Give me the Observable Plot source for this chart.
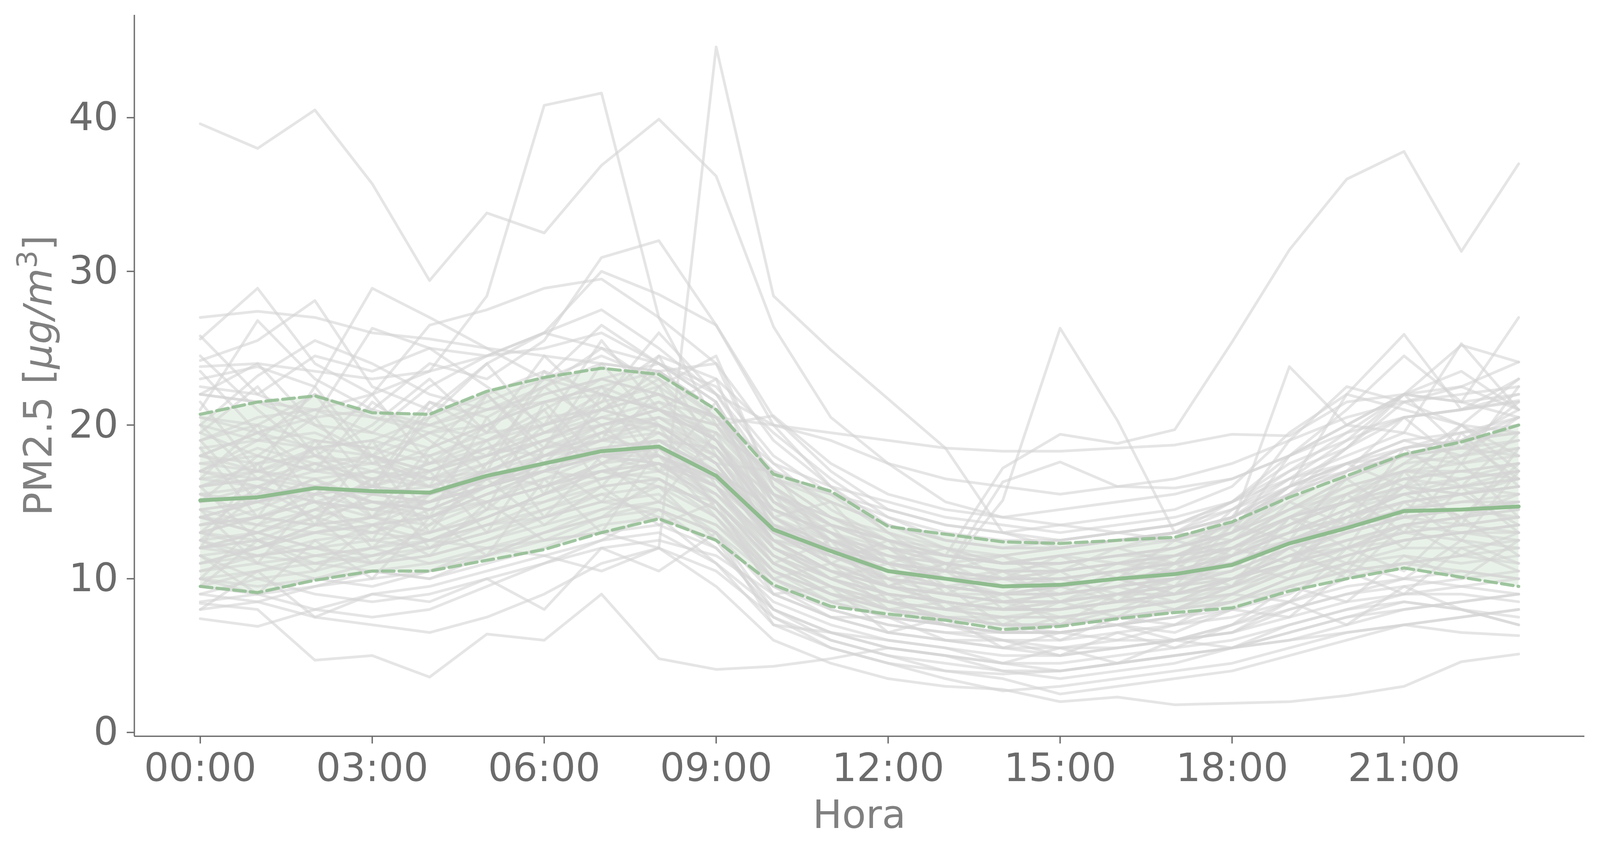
<!DOCTYPE html>
<html>
<head>
<meta charset="utf-8">
<script src="https://cdn.jsdelivr.net/npm/d3@7"></script>
<script src="https://cdn.jsdelivr.net/npm/@observablehq/plot@0.6"></script>
<style>
html, body { margin: 0; padding: 0; background: #ffffff; }
#chart svg { display: block; }
</style>
</head>
<body>
<div id="chart"></div>
<script>
// ---- data ----
const hours = [0,1,2,3,4,5,6,7,8,9,10,11,12,13,14,15,16,17,18,19,20,21,22,23];
const hourTicks = [0,3,6,9,12,15,18,21];
const hourTickLabels = ["00:00","03:00","06:00","09:00","12:00","15:00","18:00","21:00"];
const yTicks = [0,10,20,30,40];

// hourly mean and mean ± std
const meanLine  = [15.1,15.3,15.9,15.7,15.6,16.7,17.5,18.3,18.6,16.7,13.2,11.8,10.5,10.0,9.5,9.6,10.0,10.3,10.9,12.3,13.3,14.4,14.5,14.7];
const upperLine = [20.7,21.5,21.9,20.8,20.7,22.2,23.1,23.7,23.3,21.0,16.8,15.7,13.4,12.9,12.4,12.3,12.5,12.7,13.7,15.3,16.7,18.1,18.9,20.0];
const lowerLine = [9.5,9.1,9.9,10.5,10.5,11.2,11.9,13.0,13.9,12.5,9.6,8.2,7.7,7.3,6.7,6.9,7.4,7.8,8.1,9.2,10.0,10.7,10.1,9.5];

// individual daily profiles (one row per day, 24 hourly values)
const dayProfiles = [
  [39.6,38.0,40.5,35.7,29.4,33.8,32.5,36.9,39.9,36.2,26.4,20.5,17.5,15.0,14.0,13.5,13.0,12.5,13.5,16.0,17.5,18.5,19.0,21.0],
  [18.0,19.5,21.0,22.0,23.5,28.4,40.8,41.6,27.0,20.0,15.5,13.0,11.0,10.5,10.0,10.5,11.0,11.5,12.0,14.0,15.0,16.0,15.5,16.0],
  [12.0,13.0,14.5,13.5,12.5,12.0,11.5,10.5,12.0,44.6,28.4,24.9,21.7,18.5,13.0,12.0,12.5,13.0,14.0,16.0,17.0,18.0,17.5,18.5],
  [14.0,15.0,16.0,15.5,15.0,16.0,17.0,18.0,18.5,17.0,14.5,13.0,12.0,11.5,17.2,19.4,18.8,19.7,25.4,31.4,36.0,37.8,31.3,37.0],
  [14.5,15.0,15.5,16.0,15.5,16.5,17.5,18.0,18.0,16.0,13.0,12.0,11.0,10.5,15.1,26.3,20.3,13.0,12.5,14.0,15.0,16.0,16.5,17.0],
  [27.0,27.4,27.0,26.0,25.6,25.0,24.5,24.0,23.5,21.0,17.0,15.0,13.5,12.5,12.0,12.5,13.0,13.5,15.0,17.5,19.0,20.5,21.0,22.0],
  [25.8,22.0,20.5,26.3,25.0,24.5,26.0,25.0,24.0,22.5,18.0,15.5,13.0,11.5,11.0,11.0,11.5,12.0,13.5,16.0,18.5,21.5,20.0,19.5],
  [25.6,28.9,24.0,22.0,26.5,27.5,28.9,29.5,27.0,24.0,19.0,16.0,13.0,12.0,11.5,12.0,12.5,13.0,14.5,17.0,19.5,22.0,25.2,24.1],
  [24.2,25.5,28.1,22.5,21.0,24.0,26.0,30.0,28.5,26.5,20.5,17.0,14.5,13.5,13.0,13.5,14.0,14.5,16.0,19.5,22.0,21.0,20.0,23.0],
  [23.0,23.8,22.5,28.9,27.0,25.0,23.0,22.0,24.5,23.0,19.5,16.5,14.0,12.5,12.0,12.0,12.5,13.0,14.0,16.5,18.0,19.5,18.5,20.0],
  [22.0,21.5,20.0,19.5,22.5,24.5,26.0,27.5,25.0,22.0,17.5,14.5,12.5,11.5,11.0,11.5,12.0,13.0,15.0,18.0,20.0,22.0,23.5,21.0],
  [21.0,26.8,23.0,21.0,24.0,23.0,25.5,30.9,32.0,26.5,20.0,16.0,13.5,12.0,11.0,11.0,11.5,12.0,13.0,15.0,17.0,18.5,19.0,20.5],
  [20.5,20.0,19.0,18.5,20.0,21.5,23.0,24.5,23.0,20.5,16.5,14.0,12.0,11.0,10.5,10.5,11.0,11.5,12.5,14.5,16.5,18.0,19.0,19.5],
  [23.8,24.0,23.5,23.0,23.5,24.5,25.0,26.0,24.0,22.0,20.0,19.0,17.5,16.5,16.0,15.5,16.0,16.5,17.5,19.0,20.5,21.5,22.0,22.5],
  [19.0,20.0,22.0,20.5,19.5,20.0,22.0,23.0,24.0,21.5,15.0,13.0,11.0,10.0,9.5,9.5,10.0,10.5,11.5,13.5,15.5,17.5,18.0,18.5],
  [22.5,22.0,24.5,23.5,25.0,22.5,20.0,21.0,23.5,24.0,16.0,12.5,10.5,10.0,10.0,10.5,11.0,11.0,12.0,14.0,16.0,17.0,16.5,17.5],
  [20.0,23.2,25.5,24.0,22.0,21.0,21.5,22.5,21.0,19.5,15.5,14.0,12.5,11.5,11.0,11.5,12.0,12.5,14.0,16.0,17.5,19.0,18.0,19.0],
  [16.0,17.0,18.0,17.5,18.0,19.0,20.0,21.0,22.0,20.5,20.0,19.5,19.0,18.5,18.3,18.3,18.5,18.7,19.4,19.3,21.5,22.0,21.5,22.0],
  [17.5,18.0,17.0,16.5,17.0,18.5,19.5,20.0,21.0,20.0,20.6,17.5,15.5,14.5,14.0,14.5,15.0,15.5,16.5,18.0,20.0,22.0,21.5,27.0],
  [15.0,15.5,16.0,15.5,15.0,16.5,17.5,18.5,19.0,17.0,13.5,12.0,10.5,10.0,9.5,9.5,10.0,10.5,11.0,12.5,13.5,14.5,15.0,15.0],
  [14.0,13.0,14.5,16.5,17.5,18.0,19.5,21.0,20.0,18.0,14.0,12.0,10.0,9.0,8.5,8.5,9.0,9.5,10.5,12.0,13.0,14.0,13.5,14.0],
  [17.0,18.5,17.5,16.0,15.5,17.0,18.0,19.5,21.5,19.0,14.5,12.5,11.0,10.5,10.0,10.0,10.5,11.0,12.0,13.5,15.0,16.5,16.0,17.0],
  [13.0,14.0,15.0,14.0,13.5,15.0,16.0,17.0,18.0,16.5,13.0,11.0,9.5,9.0,8.5,9.0,9.5,10.0,10.0,11.5,12.5,13.5,14.0,14.5],
  [16.5,16.0,17.0,18.0,16.5,17.5,19.0,20.5,19.5,17.5,12.5,10.5,9.0,8.5,8.0,8.0,8.5,9.0,10.0,11.0,12.0,13.0,13.5,13.0],
  [12.0,12.5,13.0,13.5,14.0,15.5,16.5,18.0,18.5,16.0,12.0,10.5,9.5,9.0,8.5,8.5,9.0,9.0,9.5,11.0,12.5,13.5,13.0,12.5],
  [18.0,17.0,16.5,15.0,14.5,16.0,17.0,18.0,17.5,16.0,13.5,12.5,11.5,11.0,10.5,10.5,11.0,11.5,12.5,14.0,15.5,17.0,17.5,18.0],
  [14.5,15.0,14.0,13.0,12.5,14.0,15.5,17.5,19.0,18.5,14.0,11.5,10.0,9.5,9.0,9.0,9.5,10.0,11.0,12.5,14.0,15.5,16.0,16.5],
  [11.0,11.5,12.5,13.0,14.5,16.0,18.0,19.0,20.5,18.0,13.0,11.0,9.5,8.5,8.0,8.0,8.5,9.0,10.0,11.5,12.0,13.0,12.5,12.0],
  [19.5,18.0,17.0,17.5,16.5,16.0,17.0,18.5,18.0,15.5,12.0,10.5,9.5,9.0,8.5,8.5,9.0,9.5,10.0,11.5,13.0,14.0,14.5,15.0],
  [13.5,14.5,16.0,15.0,14.0,15.5,17.0,19.5,20.0,17.5,12.5,10.0,8.5,8.0,7.5,7.5,8.0,8.5,9.5,11.0,12.0,13.5,14.0,14.5],
  [16.0,16.5,15.5,14.5,15.0,16.0,17.5,18.0,18.5,17.0,14.5,13.0,11.5,11.0,10.5,11.0,11.5,11.5,12.0,13.0,14.0,15.0,15.5,16.0],
  [12.5,13.0,12.0,12.5,13.0,14.5,15.0,16.5,17.5,15.5,11.5,10.0,9.0,8.5,8.0,8.5,9.0,9.5,10.0,11.0,12.0,12.5,13.0,13.5],
  [15.5,14.0,13.5,14.0,15.5,17.0,16.0,17.5,19.5,18.0,13.0,11.5,10.5,9.5,9.0,9.0,9.5,10.0,11.5,13.0,14.5,16.0,15.5,16.5],
  [17.5,17.0,18.5,19.0,18.0,19.5,20.0,21.5,22.5,20.0,15.0,12.5,11.0,10.0,9.5,9.5,10.0,10.5,11.5,13.0,14.5,15.5,16.5,17.0],
  [14.0,15.0,16.5,17.0,16.0,15.0,16.5,17.0,17.5,15.0,11.5,10.0,9.0,8.5,8.0,8.0,8.5,9.0,10.0,12.0,13.5,15.0,15.5,16.0],
  [18.5,19.0,19.5,18.0,17.0,18.5,20.0,22.0,21.0,18.5,14.0,12.0,10.5,10.0,9.5,9.5,10.0,10.5,11.5,13.0,14.0,15.0,15.5,16.0],
  [13.0,12.0,13.5,15.5,16.5,18.0,19.0,18.0,17.0,15.5,12.5,11.5,10.0,9.5,9.0,9.5,10.0,10.0,10.5,12.0,13.0,14.0,14.5,14.0],
  [16.0,17.5,19.0,18.5,17.5,19.0,21.0,23.0,22.0,19.0,14.0,12.0,10.5,9.5,9.0,9.0,9.5,10.0,11.0,12.5,14.0,15.5,16.0,16.5],
  [11.5,12.0,13.0,14.0,15.0,17.0,18.5,20.0,21.0,19.0,13.5,11.0,9.5,8.5,8.0,8.0,8.5,9.0,9.5,10.5,11.5,12.5,13.0,13.0],
  [15.0,16.0,15.0,14.5,15.5,16.5,17.0,16.5,17.5,16.5,13.0,12.0,11.0,10.5,10.0,10.0,10.5,11.0,11.5,12.5,13.5,14.0,14.5,15.0],
  [19.0,20.5,21.0,19.5,18.5,20.0,21.5,22.5,23.5,20.5,15.5,13.5,12.0,11.0,10.5,10.5,11.0,11.5,12.5,14.5,16.5,18.0,18.5,19.0],
  [12.5,11.5,12.0,13.5,14.0,16.0,17.0,18.0,19.0,17.0,12.5,10.5,9.0,8.5,8.0,8.0,8.5,9.0,10.0,11.5,12.5,13.0,13.5,14.0],
  [17.0,16.0,15.0,16.0,17.5,18.5,18.0,20.0,20.5,18.5,14.5,13.0,11.5,10.5,10.0,10.0,10.5,11.0,12.0,13.5,15.0,16.5,17.0,17.5],
  [14.0,13.5,14.5,15.0,14.5,16.0,18.0,19.0,19.5,17.0,12.0,10.0,9.0,8.5,8.0,8.0,8.5,8.5,9.0,10.5,12.0,13.5,14.0,15.0],
  [18.0,17.5,18.0,17.0,16.5,17.0,18.5,19.5,20.5,19.5,17.0,15.5,14.0,13.0,12.5,12.5,13.0,13.5,14.5,16.0,17.5,19.0,19.5,20.0],
  [15.5,16.0,17.5,16.5,16.0,17.5,19.0,20.0,21.0,20.0,16.5,15.0,13.5,12.5,12.0,12.0,12.5,13.0,14.0,15.5,17.0,18.0,18.5,18.0],
  [20.5,19.5,18.5,18.0,19.5,21.0,22.0,23.0,22.0,20.5,16.5,15.5,14.5,13.5,13.0,12.5,13.0,13.5,15.0,17.0,18.5,20.5,21.0,21.5],
  [13.5,14.0,15.5,16.0,17.0,18.0,19.5,20.5,21.5,20.5,17.5,16.0,15.0,14.0,13.5,13.0,13.5,14.0,15.0,16.5,17.5,18.0,19.0,19.5],
  [22.0,21.5,21.0,20.5,20.0,21.0,22.5,24.0,23.5,21.0,16.0,13.5,12.0,11.5,11.5,12.0,12.5,12.5,13.5,15.5,17.0,18.5,19.5,20.5],
  [9.0,8.5,9.5,10.5,10.0,11.0,12.0,13.5,14.0,12.5,9.5,8.0,7.0,6.5,6.0,6.0,6.5,7.0,7.5,8.5,9.5,10.0,9.5,9.0],
  [7.4,6.9,8.0,9.0,9.5,10.5,11.5,12.5,13.0,11.0,8.0,6.5,5.5,5.0,4.5,4.5,5.0,5.5,6.0,7.0,8.0,8.5,8.0,7.5],
  [10.5,11.0,10.0,9.5,10.5,12.0,13.0,14.5,15.0,13.5,10.0,8.5,7.5,7.0,6.5,6.5,7.0,7.5,8.0,9.5,10.5,11.0,11.5,11.0],
  [8.4,8.0,4.7,5.0,3.6,6.4,6.0,9.0,4.8,4.1,4.3,4.8,5.5,5.0,4.5,4.0,4.5,5.0,5.5,6.0,6.5,7.0,7.5,8.0],
  [11.5,10.0,9.0,8.5,9.0,10.0,11.0,12.0,12.5,11.5,9.0,7.5,6.5,6.0,5.5,5.5,6.0,6.0,6.5,7.5,8.5,9.0,9.0,8.5],
  [12.0,12.5,11.5,11.0,11.5,12.5,14.0,15.5,16.0,14.0,10.5,9.0,8.0,7.5,7.0,7.0,7.5,8.0,8.5,10.0,11.0,12.0,12.0,12.5],
  [9.5,10.5,11.0,12.0,11.0,12.0,12.5,13.0,13.5,12.0,8.5,7.0,6.0,5.5,5.0,5.0,5.5,6.0,7.0,8.0,9.0,9.5,10.0,10.5],
  [10.0,9.0,8.0,7.5,8.0,9.5,11.0,12.5,14.5,13.0,9.0,7.5,6.5,6.0,5.5,5.0,5.5,6.0,6.5,8.0,9.0,10.0,10.5,10.0],
  [8.0,8.5,7.5,7.0,6.5,7.5,9.0,11.0,12.0,10.5,7.5,6.0,5.0,4.5,4.0,4.0,4.5,5.0,5.5,6.5,7.5,8.0,8.5,9.0],
  [11.0,12.0,13.0,12.5,12.0,13.0,14.5,16.0,16.5,14.5,11.0,9.5,8.5,8.0,7.5,7.5,8.0,8.5,9.0,10.5,11.5,12.5,13.0,13.5],
  [13.0,12.5,11.0,10.5,10.0,11.5,13.0,14.0,15.0,13.5,10.5,9.0,8.0,7.0,6.5,6.5,7.0,7.5,8.5,10.0,11.0,11.5,11.0,11.5],
  [9.0,10.0,10.5,11.5,12.5,13.5,14.0,15.0,14.5,12.0,8.0,6.5,5.5,5.0,4.0,3.5,4.0,4.5,5.5,7.0,8.0,9.0,9.5,10.0],
  [10.0,9.5,10.0,10.5,11.0,11.5,12.5,13.0,12.0,9.5,6.0,4.5,3.5,3.0,2.8,2.0,2.3,1.8,1.9,2.0,2.4,3.0,4.6,5.1],
  [12.5,11.0,11.5,12.0,12.5,13.5,14.5,15.5,14.0,11.0,7.0,5.5,4.5,3.5,2.7,3.0,3.5,4.0,4.5,5.5,6.5,7.0,6.5,6.3],
  [14.0,13.0,12.0,11.5,12.0,13.0,14.0,15.0,15.5,13.0,8.0,6.0,5.0,4.0,3.5,2.5,3.0,3.5,4.0,5.0,6.0,7.0,7.5,8.0],
  [11.0,12.0,13.5,14.0,13.0,14.0,15.5,17.0,16.0,12.5,7.5,5.5,4.5,4.0,3.8,4.0,4.5,5.0,5.5,6.5,7.5,8.5,8.0,7.0],
  [13.0,14.0,13.5,13.0,14.0,15.5,17.0,18.0,17.5,15.0,11.0,9.5,8.5,8.0,8.0,8.5,9.5,11.0,14.0,19.0,22.5,21.5,22.5,21.0],
  [16.5,17.0,16.0,15.5,16.0,17.0,18.5,19.0,18.5,16.5,12.5,10.5,9.5,9.0,9.0,9.5,10.0,11.5,13.0,18.0,21.0,24.5,21.5,20.5],
  [12.0,13.0,14.0,15.0,14.5,15.0,16.0,17.5,18.0,16.0,11.5,9.5,8.0,7.5,7.5,8.0,9.0,10.0,12.5,15.5,18.5,22.0,22.5,24.1],
  [10.5,11.5,12.0,11.0,12.0,13.5,15.0,16.0,16.5,14.5,10.0,8.0,7.0,6.5,6.5,7.0,8.0,9.5,13.5,23.8,20.0,19.5,25.3,21.0],
  [17.0,16.5,17.5,18.0,17.0,18.0,19.0,20.5,20.0,17.5,13.0,11.5,10.5,10.0,10.0,10.0,10.5,11.5,13.0,16.0,22.0,25.9,21.0,23.0],
  [16.0,16.5,16.0,15.0,15.0,16.5,18.0,18.5,19.0,17.0,13.5,12.0,11.0,10.5,16.3,17.6,16.0,15.9,16.5,18.0,19.5,20.5,21.0,21.6],
  [13.5,14.0,15.0,14.5,14.0,15.0,16.0,17.0,17.5,16.0,12.0,10.0,8.5,7.5,7.0,7.0,7.5,8.0,9.0,11.0,13.5,16.0,18.0,20.5],
  [10.0,10.5,11.5,12.0,13.0,14.0,15.5,16.5,17.0,15.0,11.0,9.0,7.5,7.0,6.5,6.5,7.0,7.5,8.5,10.0,11.5,12.5,13.0,13.5],
  [9.5,9.0,9.5,10.0,10.5,11.5,13.0,14.0,14.5,13.0,10.0,8.5,7.5,7.0,6.5,6.5,7.0,6.0,5.5,6.0,7.0,8.0,8.5,9.0],
  [18.0,19.5,20.5,21.0,20.0,19.0,20.5,21.0,20.0,17.5,13.0,11.0,10.0,9.5,9.0,9.5,10.0,10.5,11.0,12.5,13.5,14.5,15.0,15.5],
  [12.0,11.5,11.0,11.5,12.5,14.0,15.5,17.0,16.5,14.5,10.5,9.0,8.0,7.5,7.0,7.0,7.5,8.0,8.5,9.5,10.5,11.0,10.5,10.0],
  [15.5,15.0,16.0,17.0,18.5,20.0,21.5,22.0,21.0,19.0,15.0,13.5,12.5,11.5,11.0,11.0,11.5,12.0,13.0,14.5,16.0,17.0,17.0,17.5],
  [8.5,9.0,10.0,11.0,11.5,12.5,13.5,14.5,16.0,15.0,11.5,9.5,8.0,7.0,6.0,5.5,5.5,6.0,7.0,8.5,10.0,11.0,11.5,12.0],
  [20.0,19.0,18.5,19.0,20.5,22.0,23.5,22.0,21.0,19.0,15.5,14.0,12.5,11.5,11.0,11.0,11.5,12.0,13.0,14.5,15.5,16.5,17.0,16.5],
  [14.5,13.5,13.0,13.5,15.0,16.0,17.5,19.0,20.0,18.5,14.0,12.5,11.0,10.5,10.0,10.0,10.5,11.0,12.5,14.0,15.0,15.5,16.0,15.5],
  [18.5,14.0,19.0,15.5,21.0,17.0,23.5,19.0,24.5,18.0,15.5,11.0,12.5,9.0,10.5,8.5,10.0,9.0,12.0,11.0,15.5,13.0,17.5,14.0],
  [12.0,17.5,13.5,19.0,14.0,20.5,15.5,22.0,17.0,21.5,13.0,13.5,9.5,11.0,8.0,9.5,8.5,11.0,9.5,14.0,12.0,17.0,13.5,18.5],
  [21.5,17.0,22.5,18.0,16.0,22.0,18.5,24.0,20.0,17.5,17.0,12.0,11.5,10.0,9.0,10.5,8.5,10.0,11.5,13.0,16.5,14.0,19.5,16.0],
  [16.5,20.0,15.0,12.5,18.0,14.5,21.5,17.5,15.0,19.5,12.0,10.0,11.0,8.0,9.0,7.0,9.0,8.0,9.5,12.5,11.0,15.0,12.5,17.0],
  [10.0,13.5,16.0,12.0,15.5,19.0,14.0,18.0,22.5,16.0,11.0,12.5,8.5,9.5,7.0,8.5,7.5,9.5,11.0,10.0,14.5,12.0,16.0,13.0],
  [23.5,19.5,17.0,21.5,19.0,16.5,20.0,25.5,21.0,23.0,14.0,15.0,11.0,12.0,10.0,11.5,10.0,12.5,11.5,15.0,13.5,18.5,16.0,19.5],
  [14.5,11.0,15.5,18.0,13.0,17.5,21.0,16.0,20.0,14.5,10.5,8.5,9.0,7.0,7.5,6.0,7.5,7.0,9.0,8.5,12.0,10.5,14.0,11.5],
  [19.5,22.5,18.0,16.0,20.5,24.0,19.5,21.5,26.0,22.0,16.5,14.0,13.0,10.5,11.5,9.5,11.0,10.5,13.5,12.5,17.0,20.5,17.5,22.5],
  [11.5,9.0,12.5,10.0,14.0,11.5,16.5,13.0,18.5,15.0,9.0,9.5,6.5,7.5,5.5,6.5,6.0,7.0,8.0,7.5,10.5,9.0,12.0,10.5],
  [17.0,19.0,22.0,17.5,19.5,18.0,22.5,20.0,17.0,18.0,13.5,11.5,12.0,9.5,10.0,9.0,10.5,9.5,10.5,14.0,13.0,16.0,14.0,15.5],
  [13.0,16.0,14.0,16.5,12.0,14.5,17.5,15.0,19.0,16.5,12.5,10.5,10.0,8.0,8.5,7.5,8.0,8.5,10.0,11.5,10.5,14.5,15.5,13.5],
  [20.0,16.5,18.5,22.0,17.5,20.0,17.5,21.0,23.0,19.0,14.5,13.0,10.0,11.0,9.5,10.0,9.0,10.0,12.0,13.5,15.0,17.5,20.0,18.0],
  [8.0,10.5,7.5,9.0,8.5,10.0,8.0,12.0,10.5,13.0,7.0,6.5,6.0,5.5,4.5,5.5,4.5,6.0,6.5,8.5,7.0,9.5,8.0,7.0],
  [15.0,18.0,20.5,16.0,21.5,19.5,24.5,21.0,22.0,20.5,15.0,12.5,12.0,10.0,10.5,9.5,10.0,9.0,11.5,13.0,14.5,17.0,19.0,16.5],
  [16.0,12.5,14.0,11.0,13.5,16.5,13.5,16.0,13.5,15.0,11.0,9.0,8.5,7.5,7.0,6.5,7.0,6.5,8.0,9.0,11.0,10.0,12.5,11.0],
  [24.5,21.0,18.0,20.0,23.0,19.5,23.0,26.5,24.0,21.5,15.5,13.5,12.5,11.0,11.5,10.5,12.0,11.0,14.5,16.5,19.0,22.0,18.5,21.5],
  [12.5,15.5,18.5,14.0,17.0,13.0,18.5,22.5,18.0,14.0,10.0,11.0,8.0,8.5,6.5,7.5,7.0,8.0,9.5,12.0,10.0,13.5,11.5,13.0],
  [19.0,15.0,16.5,14.0,18.5,22.0,18.0,19.5,18.0,16.5,12.5,12.0,9.5,10.5,8.5,9.0,9.5,8.5,10.0,11.0,14.0,15.5,14.0,17.5],
  [9.5,12.5,10.5,13.5,11.5,15.0,12.5,14.0,16.5,14.0,9.5,7.5,7.5,6.0,6.0,5.0,6.5,5.5,7.0,9.5,8.5,11.5,10.0,12.5],
  [22.0,24.0,20.0,18.0,21.5,20.5,22.5,25.0,22.5,24.5,16.0,13.5,12.5,12.0,11.0,11.5,11.0,12.0,13.0,15.5,17.5,16.0,20.0,17.0]
];

// ---- tables for the library ----
const dayRows = dayProfiles.flatMap((vals, day) => vals.map((v, i) => ({day, hour: hours[i], value: v})));
const band = hours.map((h, i) => ({hour: h, mean: meanLine[i], upper: upperLine[i], lower: lowerLine[i]}));

const W = 4103, H = 2183;
const mL = 344, mR = 40, mT = 38, mB = 296;
const xDomain = [-1.15, 24.15];
const yDomain = [-0.25, 46.68];
const green = "#8fbc8f";
const axisGray = "#6b6b6b";

const chart = Plot.plot({
  width: W,
  height: H,
  marginLeft: mL,
  marginRight: mR,
  marginTop: mT,
  marginBottom: mB,
  style: {background: "#ffffff", fontFamily: "DejaVu Sans", color: axisGray, overflow: "visible"},
  x: {domain: xDomain},
  y: {domain: yDomain},
  marks: [
    Plot.areaY(band, {x: "hour", y1: "lower", y2: "upper", fill: green, fillOpacity: 0.2}),
    Plot.lineY(dayRows, {x: "hour", y: "value", z: "day", stroke: "#d3d3d3", strokeOpacity: 0.6, strokeWidth: 7}),
    Plot.lineY(band, {x: "hour", y: "upper", stroke: green, strokeOpacity: 0.85, strokeWidth: 8, strokeDasharray: "30,13"}),
    Plot.lineY(band, {x: "hour", y: "lower", stroke: green, strokeOpacity: 0.85, strokeWidth: 8, strokeDasharray: "30,13"}),
    Plot.lineY(band, {x: "hour", y: "mean", stroke: green, strokeWidth: 10}),
    Plot.ruleY([yDomain[0]], {stroke: "#707070", strokeWidth: 3.5}),
    Plot.ruleX([xDomain[0]], {stroke: "#707070", strokeWidth: 3.5}),
    Plot.axisX({
      ticks: hourTicks,
      tickFormat: d => hourTickLabels[hourTicks.indexOf(d)],
      tickSize: 19, tickPadding: 25, strokeWidth: 3.5,
      fontSize: 100, label: null
    }),
    Plot.axisY({
      ticks: yTicks,
      tickSize: 19, tickPadding: 22, strokeWidth: 3.5,
      fontSize: 100, label: null
    })
  ]
});

document.getElementById("chart").appendChild(chart);

// axis titles
const svg = d3.select(chart);
svg.append("text")
  .attr("x", (mL + W - mR) / 2)
  .attr("y", 2123)
  .attr("text-anchor", "middle")
  .attr("font-family", "DejaVu Sans")
  .attr("font-size", 100)
  .attr("fill", "#808080")
  .text("Hora");

const yl = svg.append("text")
  .attr("transform", `translate(132, ${(mT + H - mB) / 2}) rotate(-90)`)
  .attr("text-anchor", "middle")
  .attr("font-family", "DejaVu Sans")
  .attr("font-size", 100)
  .attr("fill", "#808080");
yl.append("tspan").text("PM2.5 [");
yl.append("tspan").attr("font-style", "italic").text("μg/m");
yl.append("tspan").attr("font-size", 72).attr("dy", -38).text("3");
yl.append("tspan").attr("dy", 38).text("]");
</script>
</body>
</html>
